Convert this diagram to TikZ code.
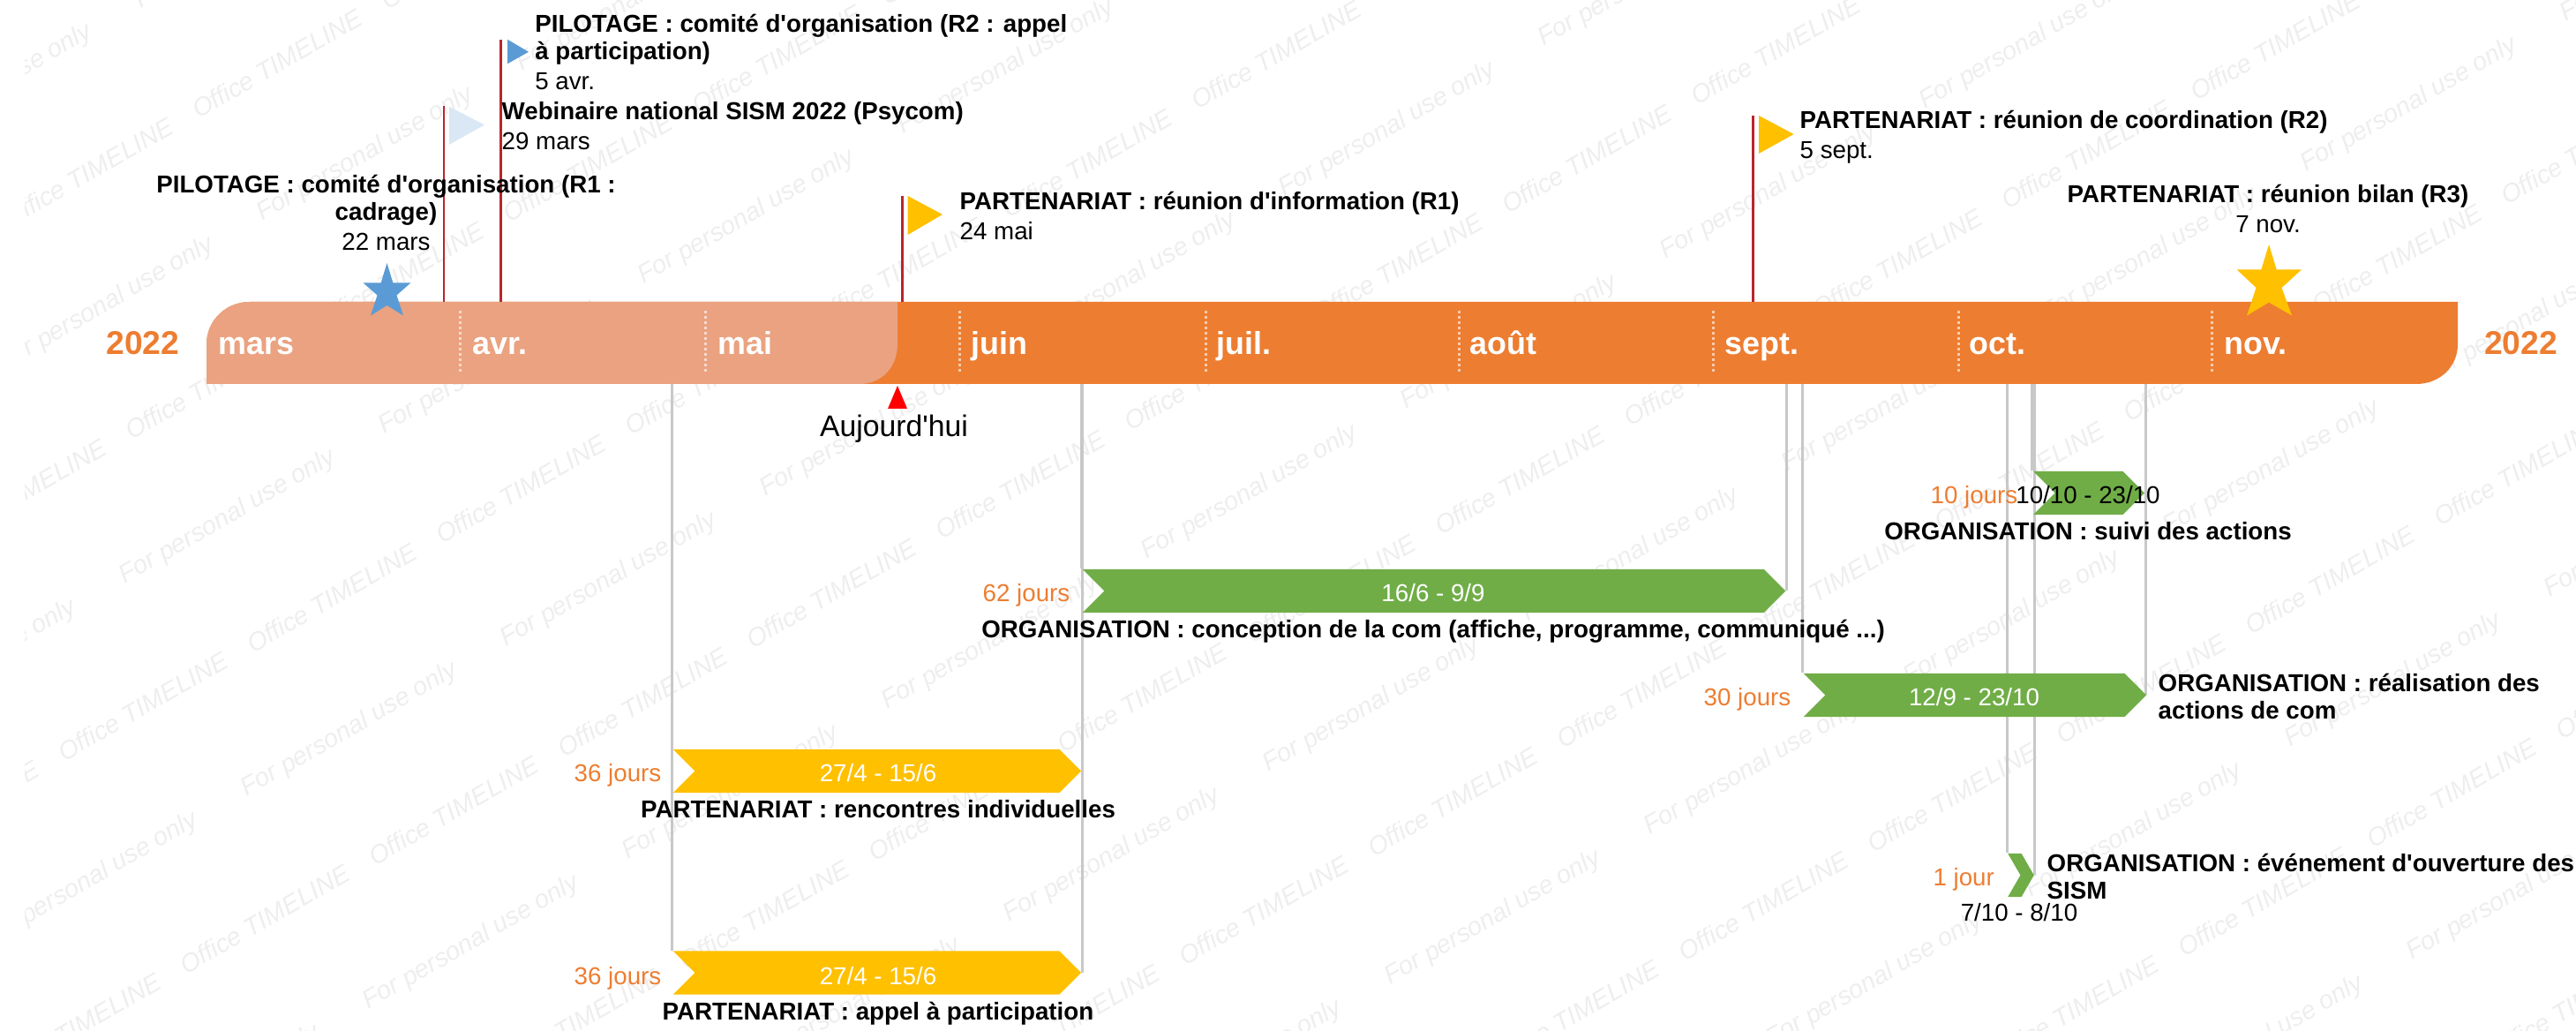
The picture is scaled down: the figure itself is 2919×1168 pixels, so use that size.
\documentclass[tikz,border=0pt]{standalone}
\usepackage{fontspec}
\setmainfont{Liberation Sans}
\usetikzlibrary{shapes.symbols,backgrounds}
\definecolor{frise}{HTML}{ED7D31}
\definecolor{friseclair}{HTML}{EAA280}
\definecolor{jaune}{HTML}{FFC000}
\definecolor{vert}{HTML}{70AD47}
\definecolor{bleu}{HTML}{5B9BD5}
\definecolor{bleuclair}{HTML}{DAE7F5}
\definecolor{hampe}{HTML}{B8262C}
\definecolor{repere}{HTML}{C8C8C8}
\definecolor{filigrane}{HTML}{EEEEEE}
\newcommand{\apos}{\textquotesingle}
\tikzset{
  texte/.style={inner sep=0pt, font=\fontsize{7.88}{8.82}\selectfont},
  gras/.style={texte, font=\fontsize{7.88}{8.82}\selectfont\bfseries},
  mois/.style={inner sep=0pt, anchor=base west, text=white, font=\fontsize{10.2}{12}\selectfont\bfseries},
  annee/.style={inner sep=0pt, anchor=base, text=frise, font=\fontsize{10.6}{12}\selectfont\bfseries},
  duree/.style={texte, anchor=base east, text=frise},
  tache/.style={signal, signal to=east, signal from=west, signal pointer angle=90, inner sep=0pt, minimum height=0.49cm},
  trait/.style={draw=repere, line width=0.03cm},
  mat/.style={draw=hampe, line width=0.025cm},
  marque/.style={inner sep=0pt, rotate=30, text=filigrane, font=\fontsize{8.2}{10}\selectfont\itshape}
}
\begin{document}
\begin{tikzpicture}[x=0.01cm,y=-0.01cm]
  \useasboundingbox (0,0) rectangle (2919,1168);

  % filigrane
  \begin{pgfonlayer}{background}
    \begin{scope}
      \clip (28,0) rectangle (2919,1168);
      \foreach \i in {-8,...,16} \foreach \j in {-5,...,8} {
        \pgfmathtruncatemacro{\xa}{590+214*\i+138*\j}
        \pgfmathtruncatemacro{\ya}{554-123*\i+241*\j}
        \pgfmathtruncatemacro{\xb}{258+294*\i+138*\j}
        \pgfmathtruncatemacro{\yb}{586-170*\i+241*\j}
        \ifnum\xa>-90 \ifnum\xa<3010 \ifnum\ya>-60 \ifnum\ya<1228
          \node[marque] (bureau\i\j) at (\xa,\ya) {Office TIMELINE};
        \fi\fi\fi\fi
        \ifnum\xb>-125 \ifnum\xb<3045 \ifnum\yb>-75 \ifnum\yb<1245
          \node[marque] (usage\i\j) at (\xb,\yb) {For personal use only};
        \fi\fi\fi\fi
      }
    \end{scope}
  \end{pgfonlayer}

  \coordinate (dessous) at (0,435);

  % barres
  \node[tache, fill=jaune, minimum width=4.62cm] (rencontres) at (994,873.5) {};
  \node[tache, fill=jaune, minimum width=4.62cm] (appel) at (994,1102) {};
  \node[tache, fill=vert, minimum width=7.96cm] (conception) at (1625,669.5) {};
  \node[tache, fill=vert, minimum width=3.88cm] (realisation) at (2238,787.5) {};
  \node[tache, fill=vert, minimum width=1.26cm] (suivi) at (2367,558.5) {};
  \node[tache, fill=vert, signal pointer angle=120, minimum width=0.295cm] (ouverture) at (2290,991.5) {};

  % reperes sous la frise
  \begin{pgfonlayer}{background}
    \foreach \t/\a in {rencontres/north west, appel/north west, rencontres/east, appel/east, conception/north west, conception/east, realisation/north west, suivi/north west, ouverture/north west, ouverture/east} {
      \draw[trait] (\t.\a |- dessous) -- (\t.\a);
    }
    \draw[trait] (suivi.east |- dessous) -- (suivi.east |- realisation.east);
  \end{pgfonlayer}

  % frise
  \fill[frise] (283,342) -- (2785,342) -- (2785,390) .. controls (2785,415) and (2765,435) .. (2738,435) -- (234,435) -- (234,390) .. controls (234,363) and (256,342) .. (283,342) -- cycle;
  \fill[friseclair] (283,342) -- (1017,342) -- (1017,390) .. controls (1017,415) and (1000,435) .. (974,435) -- (234,435) -- (234,390) .. controls (234,363) and (256,342) .. (283,342) -- cycle;
  \foreach \x in {521,799,1087,1366,1653,1941,2219,2506} {
    \draw[white, opacity=0.6, line width=0.03cm, dash pattern=on 0.03cm off 0.03cm] (\x,352) -- (\x,423);
  }
  \foreach \x/\m/\nom in {247/mars/mars, 535/avr./avril, 812.6/mai/mai, 1100/juin/juin, 1378/juil./juillet, 1665/août/aout, 1953.6/sept./septembre, 2231/oct./octobre, 2520/nov./novembre} {
    \node[mois] (\nom) at (\x,402) {\m};
  }
  \node[annee] (debut) at (162,402) {2022};
  \node[annee] (fin) at (2856.5,402) {2022};

  % jalons
  \foreach \nom/\x/\y in {webinaire/503/120, rdeux/567.6/44.7, partun/1022.7/222, partdeux/1986.4/131} {
    \coordinate (haut\nom) at (\x,\y);
    \coordinate (pied\nom) at (\x,342);
    \draw[mat] (pied\nom) -- (haut\nom);
  }
  \fill[bleuclair] (508.8,120.7) -- (549,141.5) -- (508.8,164) -- cycle;
  \fill[bleu] (575,44.7) -- (599,58.8) -- (575,72.3) -- cycle;
  \fill[jaune] (1028.7,222) -- (1068,243) -- (1028.7,266) -- cycle;
  \fill[jaune] (1993,131) -- (2032.6,152) -- (1993,174) -- cycle;
  \fill[bleu] (438.5,298) -- (445.3,320.3) -- (465.6,320.3) -- (449.5,334.5) -- (457,357.5) -- (438.5,346) -- (420,357.5) -- (427.5,334.5) -- (411.4,320.3) -- (431.7,320.3) -- cycle;
  \fill[jaune] (2571,277) -- (2579.7,305.4) -- (2608,305.4) -- (2585.5,326) -- (2597,357.5) -- (2571,342.6) -- (2546,357.5) -- (2556.5,326) -- (2534.6,305.4) -- (2562.3,305.4) -- cycle;

  % aujourd'hui
  \fill[red] (1017,437) -- (1028,463) -- (1006,463) -- cycle;
  \node[inner sep=0pt, anchor=base, font=\fontsize{9.6}{11}\selectfont] (aujourdhui) at (1013,495) {Aujourd\apos hui};

  % textes des jalons
  \node[texte, anchor=north, align=center] (comiteun) at (437.5,197.5) {\textbf{PILOTAGE : comité d\apos organisation (R1 :}\\\textbf{cadrage)}\\[0.03cm]22 mars};
  \node[texte, anchor=north west, align=left] (comitedeux) at (605.6,15.5) {\textbf{PILOTAGE : comité d\apos organisation (R2 : appel}\\\textbf{à participation)}\\[0.03cm]5 avr.};
  \node[texte, anchor=north west, align=left] (webtexte) at (568,115) {\textbf{Webinaire national SISM 2022 (Psycom)}\\[0.03cm]29 mars};
  \node[texte, anchor=north west, align=left] (infotexte) at (1087,216.5) {\textbf{PARTENARIAT : réunion d\apos information (R1)}\\[0.03cm]24 mai};
  \node[texte, anchor=north west, align=left] (coordtexte) at (2039,124.5) {\textbf{PARTENARIAT : réunion de coordination (R2)}\\[0.03cm]5 sept.};
  \node[texte, anchor=north, align=center] (bilantexte) at (2570,208) {\textbf{PARTENARIAT : réunion bilan (R3)}\\[0.03cm]7 nov.};

  % durees
  \node[duree] (dureea) at (750,886) {36 jours};
  \node[duree] (dureeb) at (750,1115) {36 jours};
  \node[duree] (dureec) at (1213,682) {62 jours};
  \node[duree] (dureed) at (2030,800) {30 jours};
  \node[duree] (dureee) at (2287,571) {10 jours};
  \node[duree] (dureef) at (2260.5,1003) {1 jour};

  % dates des barres
  \node[texte, anchor=base, text=white] (datea) at (995,886) {27/4 - 15/6};
  \node[texte, anchor=base, text=white] (dateb) at (995,1115) {27/4 - 15/6};
  \node[texte, anchor=base, text=white] (datec) at (1624,682) {16/6 - 9/9};
  \node[texte, anchor=base, text=white] (dated) at (2237,800) {12/9 - 23/10};
  \node[texte, anchor=base] (datee) at (2366,571) {10/10 - 23/10};
  \node[texte, anchor=base] (datef) at (2288,1043) {7/10 - 8/10};

  % textes des barres
  \node[gras, anchor=base] (nomrencontres) at (995,926.6) {PARTENARIAT : rencontres individuelles};
  \node[gras, anchor=base] (nomappel) at (995,1155) {PARTENARIAT : appel à participation};
  \node[gras, anchor=base] (nomconception) at (1624,723) {ORGANISATION : conception de la com (affiche, programme, communiqué ...)};
  \node[gras, anchor=base] (nomsuivi) at (2366,611.5) {ORGANISATION : suivi des actions};
  \node[gras, anchor=north west, align=left] (nomrealisation) at (2445,762.5) {ORGANISATION : réalisation des\\actions de com};
  \node[gras, anchor=north west, align=left] (nomouverture) at (2319,966.5) {ORGANISATION : événement d\apos ouverture des\\SISM};
\end{tikzpicture}
\end{document}
